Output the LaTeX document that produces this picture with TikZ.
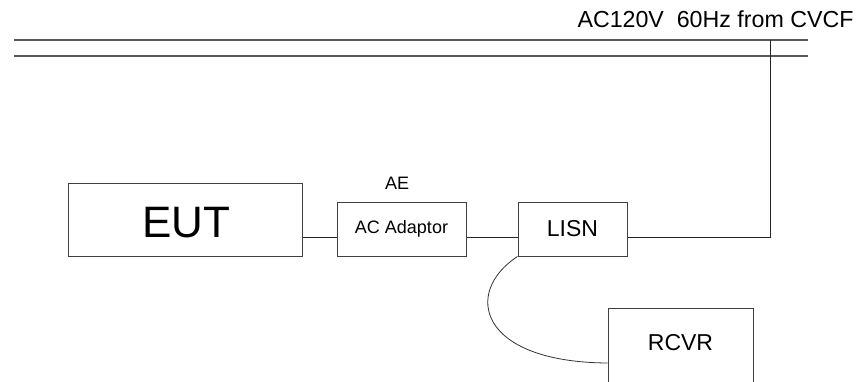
\documentclass[tikz,border=0pt]{standalone}
\usepackage{fontspec}
\setmainfont{Liberation Sans}
\usetikzlibrary{calc}

\tikzset{
    unit/.style={draw=black!75, line width=1pt, inner sep=0pt, fill=white},
    wire/.style={draw=black!85, line width=1pt}
}

\begin{document}
\begin{tikzpicture}[x=1pt, y=-1pt]
    \useasboundingbox (0,0) rectangle (866,381);

    % mains bus
    \coordinate (busA) at (14,40);
    \coordinate (busB) at (14,56);
    \coordinate (tap) at (770,40);
    \draw[draw=black!65, line width=1.4pt] (busA) -- (808,40);
    \draw[draw=black!65, line width=1.4pt] (busB) -- (808,56);
    \node[anchor=base east, font=\fontsize{23.2}{25}\selectfont] (supply) at (857,27) {AC120V\ \ 60Hz from CVCF};

    \coordinate (feed) at (0,237);

    \node[unit, minimum width=234pt, minimum height=73pt] (eut) at (185,219.5) {};
    \node[font=\fontsize{44}{46}\selectfont] (eutlabel) at (186,222.5) {EUT};
    \node[unit, minimum width=129pt, minimum height=54pt, font=\fontsize{18}{20}\selectfont] (adaptor) at (401.5,229) {AC Adaptor};
    \node[font=\fontsize{18}{20}\selectfont] (ae) at (397,183) {AE};
    \node[unit, minimum width=109pt, minimum height=54pt, font=\fontsize{23}{25}\selectfont] (lisn) at (572.5,229) {LISN};
    \node[unit, minimum width=145pt, minimum height=90pt] (rcvr) at (680.5,353) {};
    \node[font=\fontsize{23}{25}\selectfont] (rcvrlabel) at (680.5,343) {RCVR};

    \draw[wire] (eut.east |- feed) -- (adaptor.west |- feed);
    \draw[wire] (adaptor.east |- feed) -- (lisn.west |- feed);
    \draw[wire] (lisn.east |- feed) -- (tap |- feed) -- (tap);

    % coax to receiver
    \draw[draw=black!80, line width=0.8pt] (lisn.south west) .. controls (463,292) and (478,362) .. (rcvr.west |- 0,363);
\end{tikzpicture}
\end{document}
